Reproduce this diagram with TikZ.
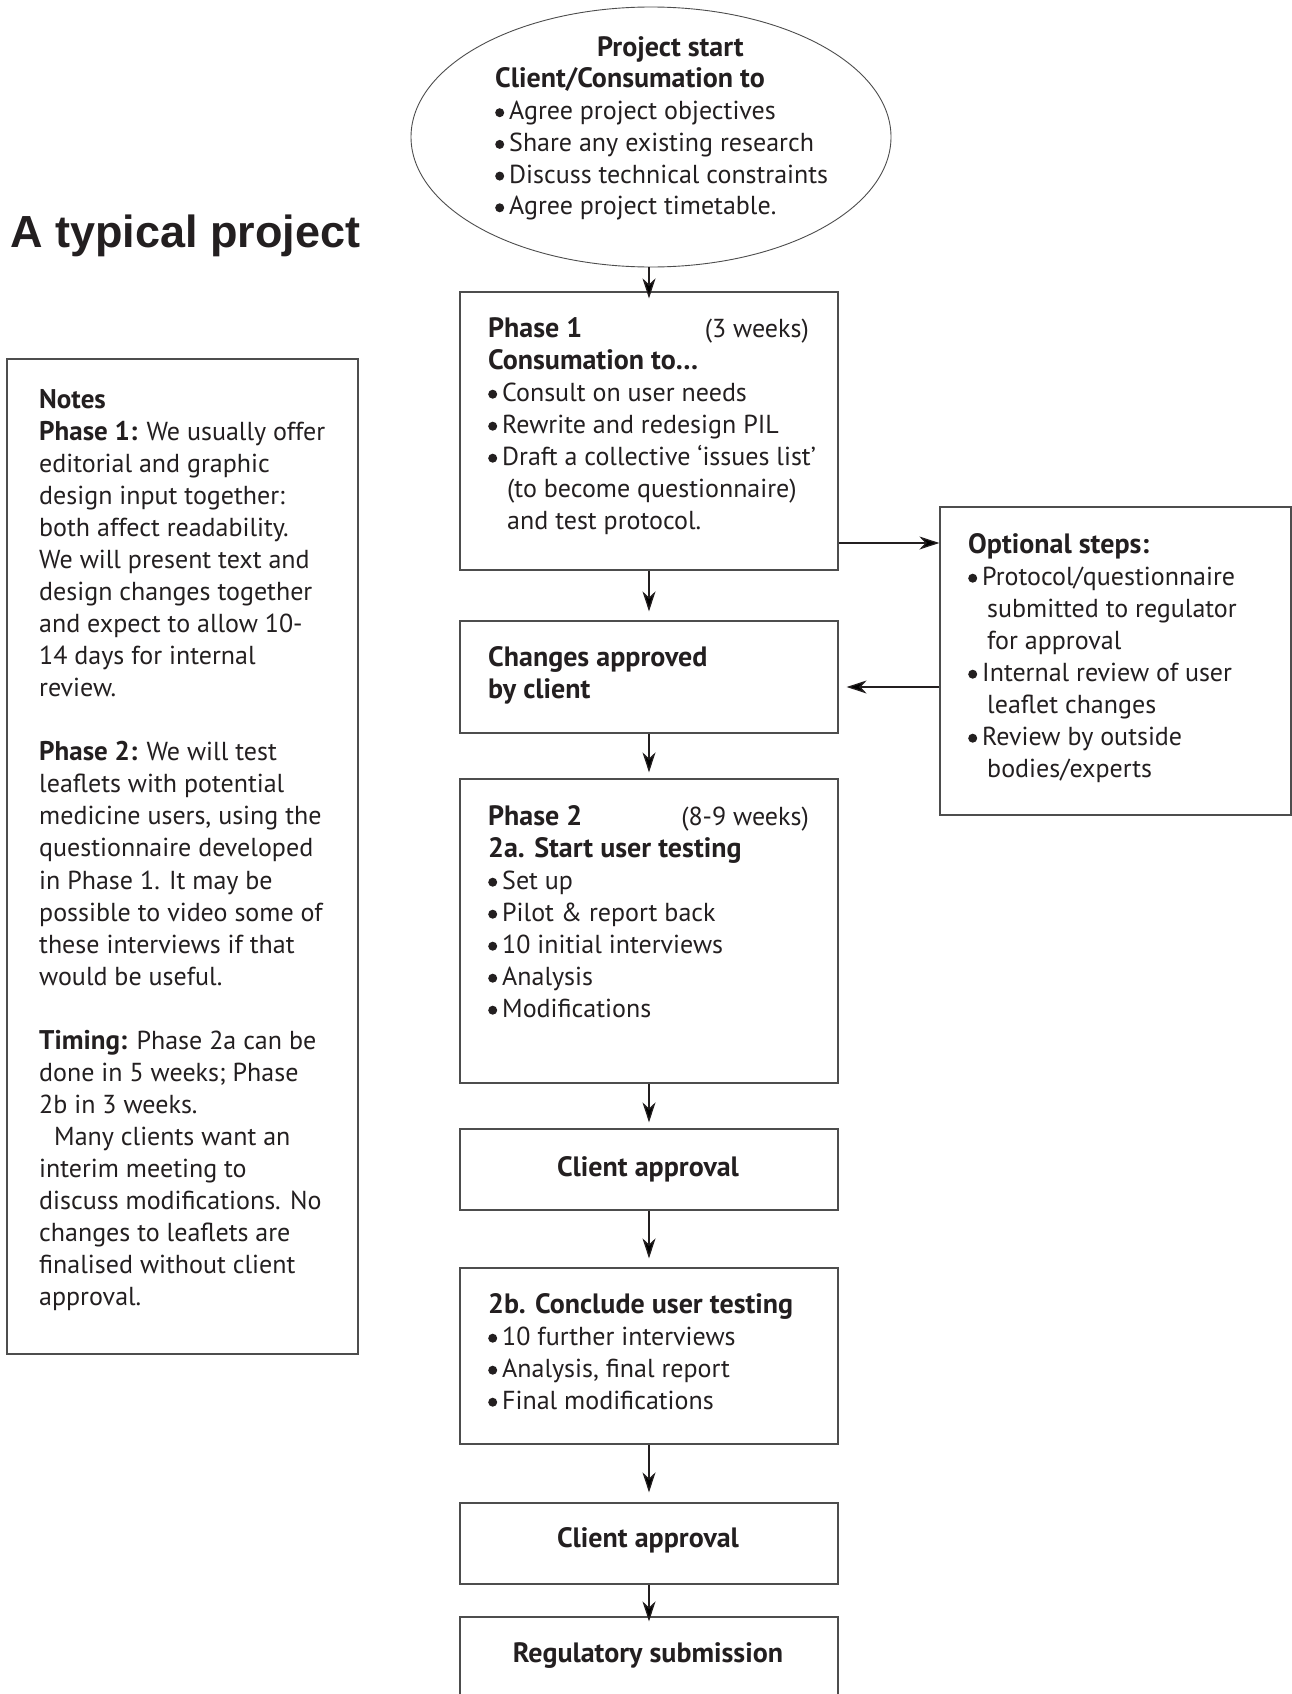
\documentclass[tikz,border=0pt]{standalone}
\usepackage{fontspec}
\setmainfont{PT Sans}
\newfontfamily\titlefont{Liberation Sans}
\usetikzlibrary{shapes.geometric,arrows.meta}
\definecolor{ink}{HTML}{231F20}
\definecolor{edge}{HTML}{4D4D4D}
\newcommand\fs{\fontsize{26}{32}\selectfont}
\newcommand\fse{\fontsize{26}{31.7}\selectfont}
\newcommand\bb[1]{{\fontsize{28}{32}\selectfont\bfseries #1}}
\newcommand\bn[1]{{\fontsize{27}{32}\selectfont\bfseries #1}}
\newcommand\bul{\makebox[14pt][l]{\tikz[baseline=0pt,x=1pt,y=1pt]{\path (0,0) (9,0); \fill[ink] (4.5,7) circle[radius=4.5pt];}}}
\newcommand\cont{\hspace*{19pt}}
\begin{document}
\begin{tikzpicture}[x=1pt,y=-1pt,
  box/.style={draw=edge, line width=1.2pt, rectangle, inner sep=0pt},
  txt/.style={anchor=north west, inner sep=0pt, align=left, text=ink, font=\fs, yshift=22.4pt},
  txtr/.style={anchor=base east, inner sep=0pt, text=ink, font=\fs},
  txtc/.style={anchor=base, inner sep=0pt, text=ink, font=\fontsize{28}{32}\selectfont\bfseries},
  conn/.style={draw=ink, line width=1.3pt, -{Stealth[length=20pt,width=13pt,inset=6pt]}}]
\useasboundingbox (0,0) rectangle (1292,1694);
\clip (0,0) rectangle (1292,1694);
\fill[white] (0,0) rectangle (1292,1694);

% title
\node[anchor=base west, inner sep=0pt, text=ink, font=\titlefont\bfseries\fontsize{45}{54}\selectfont] (title) at (10,247) {A typical project};

% shapes
\node[ellipse, draw=edge, line width=0.9pt, minimum width=480pt, minimum height=260pt, inner sep=0pt] (start) at (651,137) {};
\node[box, minimum width=378pt, minimum height=278pt] (p1) at (649,431) {};
\node[box, minimum width=378pt, minimum height=112pt] (ch) at (649,677) {};
\node[box, minimum width=378pt, minimum height=304pt] (p2) at (649,931) {};
\node[box, minimum width=378pt, minimum height=81pt] (ca1) at (649,1169.5) {};
\node[box, minimum width=378pt, minimum height=176pt] (p2b) at (649,1356) {};
\node[box, minimum width=378pt, minimum height=81pt] (ca2) at (649,1543.5) {};
\node[box, minimum width=378pt, minimum height=103pt] (reg) at (649,1668.5) {};
\node[box, minimum width=351pt, minimum height=308pt] (opt) at (1115.5,661) {};
\node[box, minimum width=351pt, minimum height=995pt] (notes) at (182.5,856.5) {};

% ellipse text
\node[anchor=base west, inner sep=0pt, text=ink] (starthead) at (597,57) {\bb{Project start}};
\node[txt, font=\fse] (starttxt) at (495,88) {\strut\bb{Client/Consumation to}\\
\bul Agree project objectives\\
\bul Share any existing research\\
\bul Discuss technical constraints\\
\bul Agree project timetable.};

% phase 1
\node[txt] (p1txt) at (488,337) {\strut\bb{Phase 1}\\
\bb{Consumation to…}\\
\bul Consult on user needs\\
\bul Rewrite and redesign PIL\\
\bul Draft a collective ‘issues list’\\
\cont(to become questionnaire)\\
\cont and test protocol.};
\node[txtr] (p1wk) at (809,337) {(3 weeks)};

% changes approved
\node[txt] (chtxt) at (488,666) {\strut\bb{Changes approved}\\ \bb{by client}};

% phase 2
\node[txt] (p2txt) at (488,825) {\strut\bb{Phase 2}\\
\bb{2a. Start user testing}\\
\bul Set up\\
\bul Pilot \& report back\\
\bul 10 initial interviews\\
\bul Analysis\\
\bul Modifications};
\node[txtr] (p2wk) at (809,825) {(8-9 weeks)};

% client approval 1
\node[txtc] (ca1txt) at (648,1176) {Client approval};

% phase 2b
\node[txt] (p2btxt) at (488,1313) {\strut\bb{2b. Conclude user testing}\\
\bul 10 further interviews\\
\bul Analysis, final report\\
\bul Final modifications};

% client approval 2 and regulatory
\node[txtc] (ca2txt) at (648,1547) {Client approval};
\node[txtc] (regtxt) at (648,1662) {Regulatory submission};

% optional steps
\node[txt] (opttxt) at (968,553) {\strut\bb{Optional steps:}\\
\bul Protocol/questionnaire\\
\cont submitted to regulator\\
\cont for approval\\
\bul Internal review of user\\
\cont leaflet changes\\
\bul Review by outside\\
\cont bodies/experts};

% notes
\node[txt, font=\fontsize{26}{32.05}\selectfont] (notestxt) at (39,408) {\strut\bn{Notes}\\
\bn{Phase 1:} We usually offer\\
editorial and graphic\\
design input together:\\
both affect readability.\\
We will present text and\\
design changes together\\
and expect to allow 10-\\
14 days for internal\\
review.\\
\strut\\
\bn{Phase 2:} We will test\\
leaflets with potential\\
medicine users, using the\\
questionnaire developed\\
in Phase 1. It may be\\
possible to video some of\\
these interviews if that\\
would be useful.\\
\strut\\
\bn{Timing:} Phase 2a can be\\
done in 5 weeks; Phase\\
2b in 3 weeks.\\
\hspace*{15pt}Many clients want an\\
interim meeting to\\
discuss modifications. No\\
changes to leaflets are\\
finalised without client\\
approval.};

% connectors
\draw[conn, shorten >=-7pt] (p1.north |- start.south) -- (p1.north);
\draw[conn, shorten >=9pt] (p1.south) -- (ch.north);
\draw[conn, shorten >=6pt] (ch.south) -- (p2.north);
\draw[conn, shorten >=6pt] (p2.south) -- (ca1.north);
\draw[conn, shorten >=9pt] (ca1.south) -- (p2b.north);
\draw[conn, shorten >=10pt] (p2b.south) -- (ca2.north);
\draw[conn, shorten >=-5pt] (ca2.south) -- (reg.north);
\draw[conn] (p1.east |- 0,543) -- (opt.west |- 0,543);
\draw[conn, shorten >=8pt] (opt.west |- 0,687) -- (ch.east |- 0,687);
\end{tikzpicture}
\end{document}
